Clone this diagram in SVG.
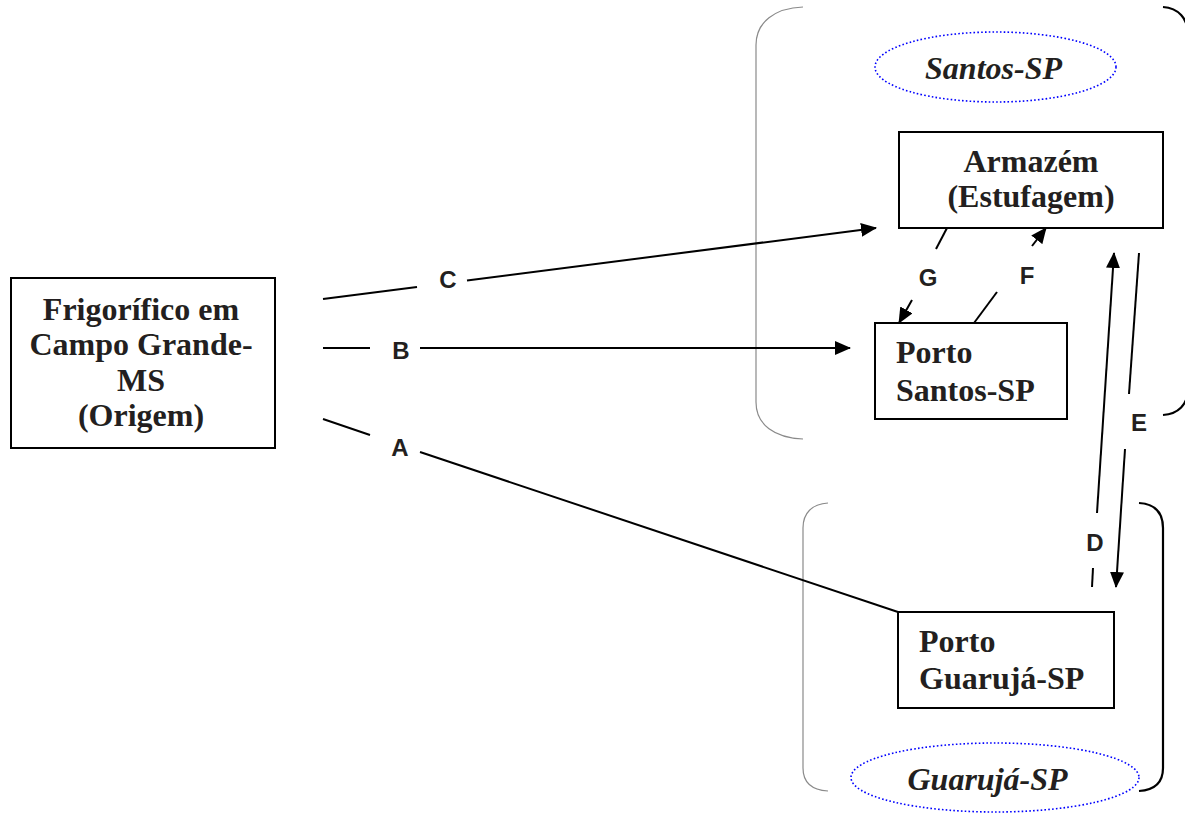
<svg xmlns="http://www.w3.org/2000/svg" width="1185" height="814" viewBox="0 0 1185 814">
<style>
.box{fill:#fff;stroke:#000;stroke-width:2}
.t{font-family:"Liberation Serif","Times New Roman",serif;font-weight:bold;font-size:32px;fill:#231f20}
.ti{font-family:"Liberation Serif","Times New Roman",serif;font-weight:bold;font-style:italic;font-size:32px;fill:#231f20}
.lbl{font-family:"Liberation Sans",Arial,sans-serif;font-weight:bold;font-size:24px;fill:#231f20;text-anchor:middle}
.ln{fill:none;stroke:#000;stroke-width:2}
.gb{fill:none;stroke:#8a8a8a;stroke-width:1.2}
.bb{fill:none;stroke:#000;stroke-width:2.2}
.el{fill:none;stroke:#0000ff;stroke-width:1.6;stroke-dasharray:1.6 2.2}
</style>
<defs>
<marker id="ah" markerUnits="userSpaceOnUse" markerWidth="16" markerHeight="14" refX="15" refY="7" orient="auto">
<path d="M0,0 L16,7 L0,14 z" fill="#000"/>
</marker>
</defs>
<rect width="1185" height="814" fill="#fff"/>
<g id="regions">
<path class="gb" d="M803,7 C775,8 756,22 756,45 L756,402 C756,425 775,438 803,439"/>
<path class="bb" d="M1163,7 C1178,8 1188,18 1188,35 L1188,388 C1188,405 1178,414 1163,415"/>
<path class="gb" d="M828,503 C812,504 803,513 803,528 L803,768 C803,783 812,790 828,791"/>
<path class="bb" d="M1139,503 C1155,504 1163,513 1163,528 L1163,768 C1163,783 1155,790 1139,791"/>
</g>
<g id="santos-label">
<ellipse class="el" cx="995.5" cy="67" rx="120.5" ry="35"/>
<text class="ti" x="993.5" y="79" text-anchor="middle">Santos-SP</text>
</g>
<g id="guaruja-label">
<ellipse class="el" cx="995" cy="777.5" rx="144" ry="34.5"/>
<text class="ti" x="987.5" y="790" text-anchor="middle">Guarujá-SP</text>
</g>
<g id="frigorifico">
<rect class="box" x="11" y="278" width="264" height="170"/>
<text class="t" text-anchor="middle"><tspan x="141" y="320">Frigorífico em</tspan><tspan x="141" y="355">Campo Grande-</tspan><tspan x="141" y="391">MS</tspan><tspan x="141" y="426">(Origem)</tspan></text>
</g>
<g id="armazem">
<rect class="box" x="899" y="132" width="264" height="96"/>
<text class="t" text-anchor="middle"><tspan x="1031" y="172">Armazém</tspan><tspan x="1031" y="207">(Estufagem)</tspan></text>
</g>
<g id="porto-santos">
<rect class="box" x="875" y="323" width="192" height="96"/>
<text class="t"><tspan x="896" y="363">Porto</tspan><tspan x="896" y="401">Santos-SP</tspan></text>
</g>
<g id="porto-guaruja">
<rect class="box" x="898" y="612" width="216" height="96"/>
<text class="t"><tspan x="919" y="652">Porto</tspan><tspan x="919" y="689">Guarujá-SP</tspan></text>
</g>
<g id="connectors">
<path class="ln" d="M323,299 L417,287"/>
<path class="ln" d="M467,280.5 L876,228" marker-end="url(#ah)"/>
<path class="ln" d="M323,348 L370,348"/>
<path class="ln" d="M420,348 L850,348" marker-end="url(#ah)"/>
<path class="ln" d="M323,419 L370,435"/>
<path class="ln" d="M420,452 L898,612"/>
<path class="ln" d="M947,228 L936,249"/>
<path class="ln" d="M912,300 L899,323" marker-end="url(#ah)"/>
<path class="ln" d="M974,323 L997,292"/>
<path class="ln" d="M1032,246 L1046,228" marker-end="url(#ah)"/>
<path class="ln" d="M1092,587 L1093,568"/>
<path class="ln" d="M1097,513 L1114,253" marker-end="url(#ah)"/>
<path class="ln" d="M1139,253 L1129,394"/>
<path class="ln" d="M1125,449 L1116,587" marker-end="url(#ah)"/>
<text class="lbl" x="448" y="288">C</text>
<text class="lbl" x="401" y="359">B</text>
<text class="lbl" x="400" y="456">A</text>
<text class="lbl" x="928" y="286">G</text>
<text class="lbl" x="1027" y="284">F</text>
<text class="lbl" x="1095" y="551">D</text>
<text class="lbl" x="1139" y="431">E</text>
</g>
</svg>
